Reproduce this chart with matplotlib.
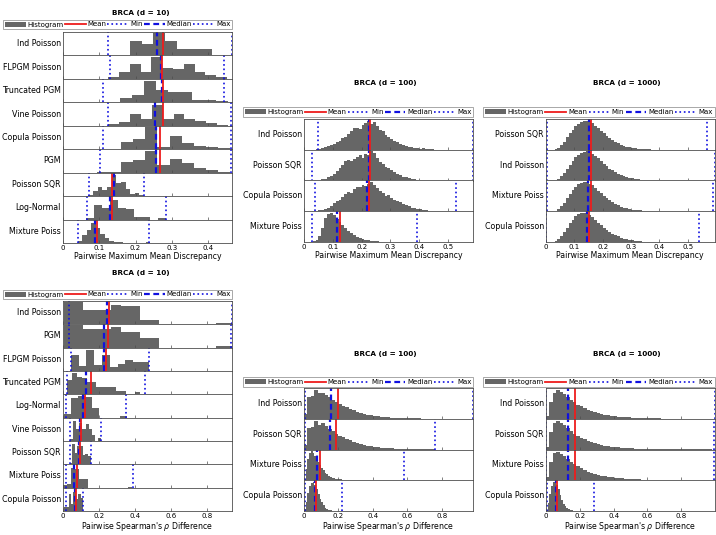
import numpy as np
import matplotlib
matplotlib.use('Agg')
import matplotlib.pyplot as plt
from matplotlib.lines import Line2D
from matplotlib.patches import Patch
from matplotlib.ticker import MultipleLocator, FormatStrFormatter

# ---------------- data ----------------
# top-left: MMD, d = 10
mmd10_names = ['Ind Poisson', 'FLPGM Poisson', 'Truncated PGM', 'Vine Poisson',
               'Copula Poisson', 'PGM', 'Poisson SQR', 'Log-Normal', 'Mixture Poiss']
mmd10_min = [0.123, 0.130, 0.110, 0.125, 0.111, 0.102, 0.073, 0.066, 0.042]
mmd10_med = [0.260, 0.270, 0.272, 0.254, 0.256, 0.256, 0.141, 0.130, 0.088]
mmd10_mean = [0.275, 0.274, 0.276, 0.277, 0.268, 0.268, 0.136, 0.134, 0.093]
mmd10_max = [0.466, 0.445, 0.445, 0.463, 0.463, 0.463, 0.224, 0.283, 0.238]
mmd10_lo = [0.185, 0.125, 0.091, 0.125, 0.093, 0.093, 0.070, 0.064, 0.040]
mmd10_bw = [0.0322, 0.0297, 0.033, 0.030, 0.0335, 0.0335, 0.0128, 0.022, 0.0125]
mmd10_hist = [
    [0.6, 0.48, 0.94, 0.6, 0.29, 0.29, 0.29, 0, 0.04],
    [0.1, 0.28, 0.65, 0.3, 0.93, 0.45, 0.42, 0.63, 0.3, 0.15, 0.1],
    [0.03, 0, 0.2, 0.32, 0.93, 0.54, 0.42, 0.42, 0.12, 0.1, 0.06],
    [0.08, 0.18, 0.52, 0.29, 0.88, 0.29, 0.5, 0.27, 0.2, 0.1, 0.05],
    [0.03, 0, 0.3, 0.45, 0.95, 0.1, 0.58, 0.27, 0.14, 0.1, 0.04],
    [0.02, 0.03, 0.47, 0.56, 0.93, 0.32, 0.58, 0.42, 0.22, 0.1, 0.04],
    [0.04, 0.2, 0.37, 0.28, 0.4, 0.92, 0.55, 0.6, 0.3, 0.08, 0.15, 0.03],
    [0.08, 0.62, 0.48, 0.85, 0.48, 0.47, 0.13, 0.11, 0, 0.05],
    [0.1, 0.35, 0.55, 0.85, 0.65, 0.4, 0.23, 0.1, 0.05, 0.03, 0, 0, 0, 0, 0, 0.03],
]

# top-middle: MMD, d = 100
mmd100_names = ['Ind Poisson', 'Poisson SQR', 'Copula Poisson', 'Mixture Poiss']
mmd100_min = [0.049, 0.028, 0.038, 0.028]
mmd100_med = [0.225, 0.225, 0.220, 0.116]
mmd100_mean = [0.229, 0.230, 0.227, 0.125]
mmd100_max = [0.587, 0.586, 0.528, 0.392]
mmd100_lo = [0.04, 0.03, 0.04, 0.03]
mmd100_bw = [0.01, 0.01, 0.01, 0.01]
mmd100_hist = [
    [0.01, 0.03, 0.05, 0.08, 0.12, 0.15, 0.2, 0.25, 0.3, 0.37, 0.43, 0.5, 0.6, 0.7,
     0.72, 0.68, 0.8, 0.88, 0.95, 0.85, 0.9, 0.78, 0.65, 0.6, 0.48, 0.42, 0.36, 0.3,
     0.25, 0.2, 0.16, 0.12, 0.1, 0.08, 0.06, 0.05, 0.04, 0.05, 0.02, 0.01, 0.01],
    [0.01, 0.01, 0.02, 0.04, 0.06, 0.1, 0.14, 0.2, 0.3, 0.42, 0.5, 0.62, 0.68, 0.62,
     0.7, 0.75, 0.82, 0.74, 0.85, 0.82, 0.95, 0.88, 0.72, 0.6, 0.55, 0.44, 0.42, 0.34,
     0.28, 0.22, 0.17, 0.13, 0.1, 0.08, 0.06, 0.05, 0.03, 0.02, 0.02, 0.01],
    [0.01, 0.03, 0.05, 0.08, 0.12, 0.18, 0.26, 0.32, 0.38, 0.45, 0.55, 0.62, 0.6, 0.72,
     0.8, 0.78, 0.85, 0.82, 0.9, 0.95, 0.85, 0.75, 0.65, 0.6, 0.5, 0.52, 0.42, 0.38,
     0.32, 0.3, 0.25, 0.2, 0.16, 0.12, 0.1, 0.08, 0.06, 0.04, 0.03, 0.02, 0.01],
    [0.02, 0.08, 0.2, 0.45, 0.78, 0.9, 0.95, 0.88, 0.75, 0.65, 0.55, 0.45, 0.36, 0.28,
     0.22, 0.17, 0.13, 0.1, 0.07, 0.05, 0.04, 0.03, 0.02, 0.015, 0.01, 0.01],
]

# top-right: MMD, d = 1000
mmd1000_names = ['Poisson SQR', 'Ind Poisson', 'Mixture Poiss', 'Copula Poisson']
mmd1000_min = [0.002, 0.002, 0.005, 0.001]
mmd1000_med = [0.151, 0.153, 0.149, 0.145]
mmd1000_mean = [0.160, 0.160, 0.157, 0.152]
mmd1000_max = [0.567, 0.594, 0.588, 0.541]
mmd1000_lo = [0.03, 0.03, 0.03, 0.03]
mmd1000_bw = [0.01, 0.01, 0.01, 0.01]
mmd1000_hist = [
    [0.02, 0.07, 0.15, 0.26, 0.4, 0.53, 0.65, 0.76, 0.85, 0.91, 0.95, 0.95, 0.92, 0.86,
     0.78, 0.7, 0.61, 0.53, 0.45, 0.38, 0.31, 0.26, 0.21, 0.17, 0.13, 0.1, 0.08, 0.06,
     0.05, 0.04, 0.03, 0.02, 0.015, 0.01, 0.008, 0.005, 0.003, 0.002],
    [0.02, 0.06, 0.14, 0.25, 0.38, 0.52, 0.64, 0.75, 0.84, 0.9, 0.94, 0.95, 0.93, 0.87,
     0.8, 0.72, 0.63, 0.55, 0.47, 0.39, 0.33, 0.27, 0.22, 0.18, 0.14, 0.11, 0.09, 0.07,
     0.05, 0.04, 0.03, 0.022, 0.016, 0.011, 0.008, 0.005, 0.003, 0.002],
    [0.02, 0.07, 0.16, 0.28, 0.42, 0.56, 0.68, 0.79, 0.87, 0.93, 0.95, 0.94, 0.9, 0.84,
     0.76, 0.67, 0.58, 0.5, 0.42, 0.35, 0.29, 0.24, 0.19, 0.15, 0.12, 0.09, 0.07, 0.055,
     0.043, 0.033, 0.025, 0.018, 0.013, 0.009, 0.006, 0.004, 0.003, 0.002],
    [0.03, 0.09, 0.19, 0.32, 0.47, 0.61, 0.73, 0.83, 0.9, 0.94, 0.95, 0.92, 0.87, 0.8,
     0.72, 0.63, 0.55, 0.47, 0.39, 0.33, 0.27, 0.22, 0.18, 0.14, 0.11, 0.085, 0.065,
     0.05, 0.038, 0.028, 0.02, 0.015, 0.01, 0.007, 0.005, 0.003, 0.002, 0.001],
]

# bottom-left: Spearman, d = 10
sp10_names = ['Ind Poisson', 'PGM', 'FLPGM Poisson', 'Truncated PGM', 'Log-Normal',
              'Vine Poisson', 'Poisson SQR', 'Mixture Poiss', 'Copula Poisson']
sp10_min = [0.032, 0.032, 0.043, 0.024, 0.015, 0.037, 0.037, 0.015, 0.019]
sp10_med = [0.246, 0.229, 0.229, 0.130, 0.112, 0.093, 0.089, 0.060, 0.065]
sp10_mean = [0.255, 0.251, 0.238, 0.153, 0.121, 0.102, 0.097, 0.078, 0.071]
sp10_max = [0.940, 0.936, 0.478, 0.456, 0.353, 0.214, 0.153, 0.387, 0.112]
sp10_lo = [0.004, 0.004, 0.043, 0.024, 0.005, 0.037, 0.037, 0.002, 0.004]
sp10_bw = [0.0528, 0.0528, 0.0435, 0.027, 0.0387, 0.0177, 0.0145, 0.0224, 0.0135]
sp10_hist = [
    [0.97, 0.97, 0.6, 0.6, 0.6, 0.85, 0.8, 0.8, 0.2, 0.2, 0, 0, 0, 0, 0, 0, 0.04, 0.04],
    [0.97, 0.97, 0.79, 0.79, 0.79, 0.89, 0.68, 0.68, 0.42, 0.42, 0, 0, 0, 0, 0, 0, 0.08, 0.08],
    [0.7, 0.21, 0.89, 0.24, 0.7, 0.17, 0.3, 0.49, 0.39, 0.39],
    [0.62, 0.9, 0.75, 0.72, 0.55, 0.55, 0.31, 0.31, 0.31, 0.31, 0.14, 0.14, 0.02, 0.02, 0.1, 0.02],
    [0.15, 0.85, 0.92, 0.88, 0.42, 0, 0, 0, 0.07],
    [0.1, 0.86, 0.5, 0.79, 0.5, 0.71, 0.5, 0.26, 0, 0.11],
    [0.07, 0.89, 0.5, 0.79, 0.79, 0.4, 0.46, 0.36],
    [0.1, 0.17, 0.86, 0.82, 0.36, 0.36, 0, 0, 0, 0, 0, 0, 0, 0, 0, 0, 0.03],
    [0.17, 0.17, 0.71, 0.31, 0.83, 0.5, 0.71, 0.57],
]

# bottom-middle: Spearman, d = 100
sp100_names = ['Ind Poisson', 'Poisson SQR', 'Mixture Poiss', 'Copula Poisson']
sp100_min = [0.006, 0.006, 0.004, 0.006]
sp100_med = [0.158, 0.148, 0.075, 0.064]
sp100_mean = [0.197, 0.183, 0.091, 0.071]
sp100_max = [0.980, 0.757, 0.578, 0.222]
sp100_lo = [0.0, 0.0, 0.0, 0.0]
sp100_bw = [0.02, 0.02, 0.01, 0.01]
sp100_hist = [
    [0.15, 0.72, 0.75, 0.92, 0.85, 0.85, 0.78, 0.7, 0.62, 0.55, 0.48, 0.42, 0.37, 0.32,
     0.27, 0.22, 0.19, 0.16, 0.13, 0.11, 0.09, 0.08, 0.06, 0.05, 0.045, 0.035, 0.03,
     0.025, 0.02, 0.018, 0.015, 0.012, 0.01, 0.01, 0.008, 0.006, 0.005, 0.004, 0.004,
     0.003, 0.003, 0.002, 0.002, 0.002, 0.002, 0.001, 0.001, 0.001, 0.001],
    [0.15, 0.7, 0.72, 0.92, 0.8, 0.85, 0.75, 0.68, 0.6, 0.52, 0.45, 0.4, 0.35, 0.3, 0.25,
     0.21, 0.18, 0.15, 0.12, 0.1, 0.085, 0.07, 0.058, 0.048, 0.04, 0.033, 0.027, 0.022,
     0.018, 0.015, 0.012, 0.01, 0.008, 0.006, 0.005, 0.004, 0.003, 0.003],
    [0.05, 0.35, 0.7, 0.9, 0.95, 0.88, 0.8, 0.7, 0.6, 0.5, 0.4, 0.32, 0.25, 0.2, 0.15,
     0.11, 0.08, 0.06, 0.05, 0.04, 0.03, 0.025, 0.02, 0.015, 0.012, 0.01, 0.008, 0.006,
     0.005, 0.004, 0.003],
    [0.05, 0.3, 0.6, 0.82, 0.9, 0.95, 0.85, 0.72, 0.55, 0.4, 0.28, 0.18, 0.11, 0.07,
     0.04, 0.025, 0.015, 0.01, 0.006, 0.004, 0.002, 0.001],
]

# bottom-right: Spearman, d = 1000
sp1000_names = ['Ind Poisson', 'Poisson SQR', 'Mixture Poiss', 'Copula Poisson']
sp1000_min = [0.002, 0.002, 0.002, 0.004]
sp1000_med = [0.132, 0.132, 0.132, 0.059]
sp1000_mean = [0.171, 0.171, 0.171, 0.067]
sp1000_max = [0.997, 0.996, 0.993, 0.283]
sp1000_lo = [0.0, 0.0, 0.0, 0.0]
sp1000_bw = [0.02, 0.02, 0.02, 0.01]
sp1000_hist = [
    [0.08, 0.55, 0.85, 0.92, 0.88, 0.8, 0.7, 0.61, 0.53, 0.46, 0.4, 0.34, 0.29, 0.25,
     0.21, 0.18, 0.15, 0.13, 0.11, 0.095, 0.08, 0.068, 0.058, 0.05, 0.042, 0.036, 0.03,
     0.026, 0.022, 0.019, 0.016, 0.013, 0.011, 0.009, 0.008, 0.007, 0.006, 0.005, 0.004,
     0.003, 0.003, 0.002, 0.002, 0.002, 0.001, 0.001, 0.001, 0.001, 0.001],
    [0.08, 0.56, 0.86, 0.93, 0.87, 0.79, 0.7, 0.6, 0.52, 0.45, 0.39, 0.34, 0.29, 0.25,
     0.21, 0.18, 0.15, 0.13, 0.11, 0.094, 0.08, 0.068, 0.058, 0.049, 0.042, 0.036, 0.03,
     0.026, 0.022, 0.019, 0.016, 0.013, 0.011, 0.009, 0.008, 0.007, 0.006, 0.005, 0.004,
     0.003, 0.003, 0.002, 0.002, 0.002, 0.001, 0.001, 0.001, 0.001, 0.001],
    [0.09, 0.58, 0.87, 0.93, 0.86, 0.78, 0.69, 0.6, 0.52, 0.45, 0.39, 0.33, 0.28, 0.24,
     0.2, 0.17, 0.15, 0.13, 0.11, 0.093, 0.079, 0.067, 0.057, 0.049, 0.041, 0.035, 0.03,
     0.025, 0.021, 0.018, 0.015, 0.013, 0.011, 0.009, 0.008, 0.007, 0.006, 0.005, 0.004,
     0.003, 0.003, 0.002, 0.002, 0.002, 0.001, 0.001, 0.001, 0.001, 0.001],
    [0.03, 0.25, 0.55, 0.8, 0.93, 0.95, 0.85, 0.7, 0.52, 0.36, 0.24, 0.15, 0.09, 0.05,
     0.03, 0.018, 0.01, 0.006, 0.003, 0.002],
]

# ---------------- drawing ----------------
W, H = 716, 535
GRAY = '#666666'
BLUE = '#1010e0'
RED = '#ee1c1c'

fig = plt.figure(figsize=(W / 100, H / 100), dpi=100)


def fx(x):
    return x / W


def fy(y):
    return 1 - y / H


def draw_panel(box, leg_box, title_xy, title, xlabel, step,
               names, lo, bw, hists, mins, meds, means, maxs):
    x0, y0, x1, y1 = box
    n = len(names)
    rh = (y1 - y0) / n
    xmax = max(maxs)
    for i in range(n):
        top = y0 + i * rh
        ax = fig.add_axes([fx(x0), fy(top + rh), (x1 - x0) / W, rh / H])
        h = np.array(hists[i])
        edges = lo[i] + bw[i] * np.arange(len(h) + 1)
        ax.stairs(h, edges, fill=True, color=GRAY, lw=0)
        ax.axvline(mins[i], color=BLUE, ls=':', lw=1.2)
        ax.axvline(maxs[i], color=BLUE, ls=':', lw=1.2)
        ax.axvline(meds[i], color=BLUE, ls=(0, (2.6, 1.6)), lw=1.6)
        ax.axvline(means[i], color=RED, lw=1.3)
        ax.set_xlim(0, xmax)
        ax.set_ylim(0, 1)
        ax.set_yticks([])
        ax.xaxis.set_major_locator(MultipleLocator(step))
        ax.xaxis.set_major_formatter(FormatStrFormatter('%g'))
        ax.tick_params(axis='x', direction='in', length=2.5, width=0.5,
                       color='0.3', labelsize=5, pad=1.5)
        if i < n - 1:
            ax.tick_params(labelbottom=False)
        ax.set_ylabel(names[i], rotation=0, ha='right', va='center',
                      fontsize=5.7, labelpad=1.5)
        for s in ax.spines.values():
            s.set_linewidth(0.6)
            s.set_color('0.3')
    ax.set_xlabel(xlabel, fontsize=5.6, labelpad=0.8)

    handles = [Patch(facecolor=GRAY, edgecolor='none'),
               Line2D([], [], color=RED, lw=1.3),
               Line2D([], [], color=BLUE, ls=':', lw=1.2),
               Line2D([], [], color=BLUE, ls=(0, (2.6, 1.6)), lw=1.6),
               Line2D([], [], color=BLUE, ls=':', lw=1.2)]
    labels = ['Histogram', 'Mean', 'Min', 'Median', 'Max']
    lx0, ly0, lx1, ly1 = leg_box
    leg = fig.legend(handles, labels, loc='center', ncol=5, mode='expand',
                     bbox_to_anchor=(fx(lx0), fy(ly1), (lx1 - lx0) / W, (ly1 - ly0) / H),
                     fontsize=5.0, frameon=True, fancybox=False, handlelength=3.0,
                     handletextpad=0.3, borderpad=0.25, borderaxespad=0, columnspacing=0.4)
    leg.get_frame().set_edgecolor('0.5')
    leg.get_frame().set_linewidth(0.6)
    fig.text(fx(title_xy[0]), fy(title_xy[1]), title, ha='center', va='center',
             fontsize=5.2, weight='bold')


mmd_label = 'Pairwise Maximum Mean Discrepancy'
sp_label = "Pairwise Spearman's $\\rho$ Difference"

draw_panel((63, 32, 232, 243), (3, 20, 232, 29), (141, 13), 'BRCA (d = 10)', mmd_label, 0.1,
           mmd10_names, mmd10_lo, mmd10_bw, mmd10_hist,
           mmd10_min, mmd10_med, mmd10_mean, mmd10_max)
draw_panel((304, 119, 473, 242), (243, 107, 473, 117), (385, 83), 'BRCA (d = 100)', mmd_label, 0.1,
           mmd100_names, mmd100_lo, mmd100_bw, mmd100_hist,
           mmd100_min, mmd100_med, mmd100_mean, mmd100_max)
draw_panel((546, 119, 714.5, 242), (483, 107, 714.5, 117), (627, 83), 'BRCA (d = 1000)', mmd_label, 0.1,
           mmd1000_names, mmd1000_lo, mmd1000_bw, mmd1000_hist,
           mmd1000_min, mmd1000_med, mmd1000_mean, mmd1000_max)
draw_panel((63, 301, 232, 511), (3, 290, 232, 299), (141, 273), 'BRCA (d = 10)', sp_label, 0.2,
           sp10_names, sp10_lo, sp10_bw, sp10_hist,
           sp10_min, sp10_med, sp10_mean, sp10_max)
draw_panel((304, 388, 473, 511), (243, 377, 473, 387), (385, 354), 'BRCA (d = 100)', sp_label, 0.2,
           sp100_names, sp100_lo, sp100_bw, sp100_hist,
           sp100_min, sp100_med, sp100_mean, sp100_max)
draw_panel((546, 388, 714.5, 511), (483, 377, 714.5, 387), (627, 354), 'BRCA (d = 1000)', sp_label, 0.2,
           sp1000_names, sp1000_lo, sp1000_bw, sp1000_hist,
           sp1000_min, sp1000_med, sp1000_mean, sp1000_max)

fig.savefig('out.png', dpi=100)
